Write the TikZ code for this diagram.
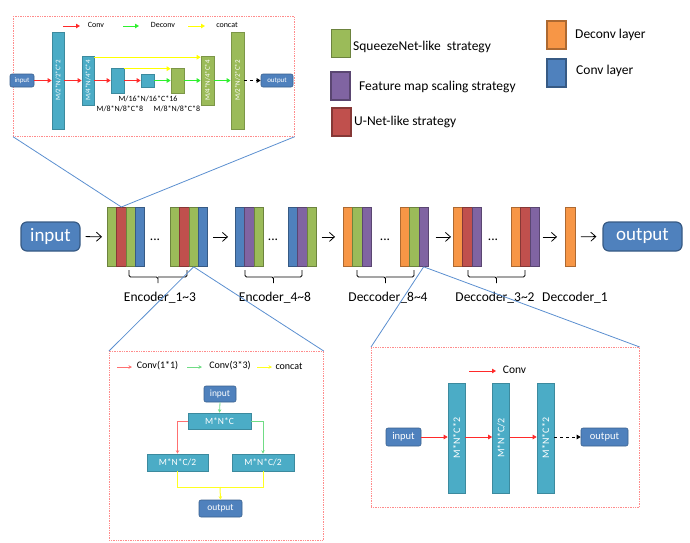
\documentclass[tikz,border=0pt]{standalone}
\usepackage{fontspec}
\setmainfont{Carlito}
\usetikzlibrary{arrows.meta,calc}
\definecolor{cgreen}{HTML}{9BBB59}
\definecolor{cred}{HTML}{C0504D}
\definecolor{cblue}{HTML}{4F81BD}
\definecolor{cpurple}{HTML}{8064A2}
\definecolor{corange}{HTML}{F79646}
\definecolor{cteal}{HTML}{4BACC6}
\definecolor{insetred}{HTML}{FF8C8C}
\definecolor{zoomblue}{HTML}{5B8FD0}
\definecolor{arred}{HTML}{FF2A2A}
\definecolor{argreen}{HTML}{2EF02E}
\definecolor{aryellow}{HTML}{FFFF00}
\definecolor{lred}{HTML}{FF7070}
\definecolor{lgreen}{HTML}{70DC85}
\definecolor{lyellow}{HTML}{FFFF20}
\newcommand\fs[1]{\fontsize{#1}{#1}\selectfont}
\newcommand\mkblock[3]{\foreach \c [count=\i] in {#3} {\node[strip=\c] (#1\i) at ({#2+(\i-1)*9.3},207) {};}}
\newcommand\bracket[2]{\draw[brk] (#1,270) |- ({(#1+#2)/2},277) -- ({(#1+#2)/2},283) ({(#1+#2)/2},277) -| (#2,270);}
\begin{document}
\begin{tikzpicture}[x=1pt,y=-1pt,
  strip/.style={draw=#1!70!black, fill=#1, line width=0.8pt, minimum width=9.3pt, minimum height=59pt, anchor=north west, inner sep=0pt},
  bigbox/.style={draw=cblue!70!black, fill=cblue, line width=1.2pt, rounded corners=6pt, text=white, inner sep=0pt, font=\fs{19}},
  smallbox/.style={draw=cblue!75!black, fill=cblue, line width=0.6pt, rounded corners=2pt, text=white, inner sep=0pt},
  tbar/.style={draw=cteal!80!black, fill=cteal, line width=0.6pt, inner sep=0pt, text=white},
  gbar/.style={draw=cgreen!80!black, fill=cgreen, line width=0.6pt, inner sep=0pt, text=white},
  legsq/.style={draw=#1!70!black, fill=#1, line width=1.3pt, minimum width=19pt, minimum height=28pt, inner sep=0pt},
  legtxt/.style={anchor=west, font=\fs{13.5}, inner sep=0pt},
  flow/.style={-{Straight Barb[length=5pt,width=9pt]}, line width=0.8pt},
  inset/.style={draw=insetred, densely dotted, line width=0.7pt, anchor=north west, inner sep=0pt},
  zoomline/.style={draw=zoomblue, line width=0.8pt},
  brk/.style={line width=0.8pt, rounded corners=1.5pt},
  lbl/.style={font=\fs{13.5}, inner sep=0pt},
  rar/.style={draw=arred, line width=1pt, -{Triangle[length=4pt,width=4.5pt]}},
  gar/.style={draw=argreen, line width=1pt, -{Triangle[length=4pt,width=4.5pt]}},
  yar/.style={draw=aryellow, line width=1pt, -{Triangle[length=4pt,width=4.5pt]}},
  dar/.style={draw=black, dashed, line width=1pt, -{Triangle[length=4pt,width=4.5pt]}},
  lrar/.style={draw=lred, line width=0.8pt, -{Stealth[length=3.5pt,width=3.5pt]}},
  lgar/.style={draw=lgreen, line width=0.8pt, -{Stealth[length=3.5pt,width=3.5pt]}},
  lyar/.style={draw=lyellow, line width=1pt, -{Stealth[length=3.5pt,width=3.5pt]}},
  lyline/.style={draw=lyellow, line width=1pt}
]
\useasboundingbox (0,0) rectangle (690,542);

% ---------------- legend ----------------
\node[legsq=cgreen] (lg1) at (341,43.5) {};
\node[legtxt] (lt1) at (353,47) {SqueezeNet-like\ \ strategy};
\node[legsq=cpurple] (lg2) at (340.5,86) {};
\node[legtxt] (lt2) at (359,87) {Feature map scaling strategy};
\node[legsq=cred] (lg3) at (341.5,122) {};
\node[legtxt] (lt3) at (354,122) {U-Net-like strategy};
\node[legsq=corange] (lg4) at (556.5,35) {};
\node[legtxt] (lt4) at (575,35) {Deconv layer};
\node[legsq=cblue] (lg5) at (556.5,73) {};
\node[legtxt] (lt5) at (576,71) {Conv layer};

% ---------------- main row ----------------
\node[bigbox, minimum width=59pt, minimum height=29pt] (in) at (50.5,236.5) {input};
\mkblock{e1a}{107}{cgreen,cred,cgreen,cblue}
\node[lbl] (dt1) at (155,240) {...};
\mkblock{e1b}{170}{cgreen,cred,cgreen,cblue}
\mkblock{e4a}{235}{cblue,cpurple,cgreen}
\node[lbl] (dt2) at (273,240) {...};
\mkblock{e4b}{288}{cblue,cpurple,cgreen}
\mkblock{d8a}{343}{corange,cgreen,cpurple}
\node[lbl] (dt3) at (385,240) {...};
\mkblock{d8b}{400}{corange,cgreen,cpurple}
\mkblock{d3a}{453}{corange,cred,cpurple}
\node[lbl] (dt4) at (493,240) {...};
\mkblock{d3b}{511}{corange,cred,cpurple}
\node[strip=corange, minimum width=10pt] (d1) at (565,207) {};
\node[bigbox, minimum width=79pt, minimum height=29pt] (out) at (642.5,236.5) {output};

\draw[flow, shorten <=5pt, shorten >=5pt] (in.east) -- (e1a1.west);
\draw[flow, shorten <=5pt, shorten >=7pt] (e1b4.east) -- (e4a1.west);
\draw[flow, shorten <=5pt, shorten >=8pt] (e4b3.east) -- (d8a1.west);
\draw[flow, shorten <=7pt, shorten >=2pt] (d8b3.east) -- (d3a1.west);
\draw[flow, shorten <=3pt, shorten >=8pt] (d3b3.east) -- (d1.west);
\draw[flow, shorten <=5pt, shorten >=6pt] (d1.east) -- (out.west);

\bracket{129}{187}
\bracket{245}{302}
\bracket{357}{414}
\bracket{468}{525}
\node[lbl] (enc1) at (160,298) {Encoder\_1\textasciitilde 3};
\node[lbl] (enc4) at (275,298) {Encoder\_4\textasciitilde 8};
\node[lbl] (dec8) at (388,298) {Deccoder\_8\textasciitilde 4};
\node[lbl] (dec3) at (495,298) {Deccoder\_3\textasciitilde 2};
\node[lbl] (dec1) at (575,298) {Deccoder\_1};

% ---------------- top-left inset ----------------
\node[inset, minimum width=281pt, minimum height=120pt] (tl) at (13,16) {};
\coordinate (tla1) at (63,26); \coordinate (tla2) at (80,26);
\draw[rar] (tla1) -- (tla2);
\node[font=\fs{8}] (tlt1) at (96,25) {Conv};
\coordinate (tlb1) at (123,26); \coordinate (tlb2) at (139,26);
\draw[gar] (tlb1) -- (tlb2);
\node[font=\fs{8}] (tlt2) at (163,25) {Deconv};
\coordinate (tlc1) at (188,26); \coordinate (tlc2) at (205,26);
\draw[yar] (tlc1) -- (tlc2);
\node[font=\fs{8}] (tlt3) at (227,25) {concat};

\node[smallbox, minimum width=24pt, minimum height=13pt, font=\fs{7}] (tin) at (22,80.5) {input};
\node[tbar, rotate=90, minimum width=97pt, minimum height=12pt, font=\fs{7}] (b1) at (58,80.5) {M/2*N/2*C*2};
\node[tbar, rotate=90, minimum width=49pt, minimum height=12pt, font=\fs{7}] (b2) at (88,80.5) {M/4*N/4*C*4};
\node[tbar, minimum width=13pt, minimum height=25pt] (b3) at (117.5,80.5) {};
\node[tbar, minimum width=13pt, minimum height=13pt] (b4) at (147.5,80.5) {};
\node[gbar, minimum width=13pt, minimum height=25pt] (b5) at (177.5,80.5) {};
\node[gbar, rotate=90, minimum width=49pt, minimum height=13pt, font=\fs{7}] (b6) at (207.5,80.5) {M/4*N/4*C*4};
\node[gbar, rotate=90, minimum width=97pt, minimum height=13pt, font=\fs{7}] (b7) at (237.5,80.5) {M/2*N/2*C*2};
\node[smallbox, minimum width=32pt, minimum height=13pt, font=\fs{7}] (tout) at (277,80.5) {output};

\draw[rar] (tin.east) -- (b1.north);
\draw[rar] (b1.south) -- (b2.north);
\draw[rar] (b2.south) -- (b3.west);
\draw[rar] (b3.east) -- (b4.west);
\draw[gar] (b4.east) -- (b5.west);
\draw[gar] (b5.east) -- (b6.north);
\draw[gar] (b6.south) -- (b7.north);
\draw[dar] (b7.south) -- (tout.west);
\draw[yar] ([yshift=-1.5pt]b2.south east) -- ([yshift=-1.5pt]b2.south east -| b6.north);
\draw[yar] ([yshift=-1pt]b3.north east) -- ([yshift=-1pt]b3.north east -| b5.west);

\node[font=\fs{8}] (s16) at (148,99) {M/16*N/16*C*16};
\node[font=\fs{8}] (s8a) at (120,109) {M/8*N/8*C*8};
\node[font=\fs{8}] (s8b) at (177,109) {M/8*N/8*C*8};

% ---------------- bottom-left inset ----------------
\node[inset, minimum width=214pt, minimum height=189pt] (bl) at (109,351) {};
\coordinate (bla1) at (117,367); \coordinate (bla2) at (132,367);
\draw[lrar] (bla1) -- (bla2);
\node[font=\fs{10}] (blt1) at (157.5,366) {Conv(1*1)};
\coordinate (blb1) at (187,367); \coordinate (blb2) at (202,367);
\draw[lgar] (blb1) -- (blb2);
\node[font=\fs{10}] (blt2) at (230,366) {Conv(3*3)};
\coordinate (blc1) at (257,367); \coordinate (blc2) at (272,367);
\draw[lyar] (blc1) -- (blc2);
\node[font=\fs{10}] (blt3) at (289,366) {concat};

\node[smallbox, minimum width=32pt, minimum height=16pt, font=\fs{9.5}] (bin) at (220,394) {input};
\node[tbar, minimum width=63pt, minimum height=16pt, font=\fs{9.5}] (mnc) at (219.5,421) {M*N*C};
\node[tbar, minimum width=61pt, minimum height=17pt, font=\fs{9.5}] (ml) at (177.5,462.5) {M*N*C/2};
\node[tbar, minimum width=62pt, minimum height=17pt, font=\fs{9.5}] (mr) at (263,462.5) {M*N*C/2};
\node[smallbox, minimum width=43pt, minimum height=17pt, font=\fs{9.5}] (bout) at (220.5,508.5) {output};
\coordinate (jn) at (220,487);

\draw[lgar] (bin.south) -- (mnc.north);
\draw[lrar] (mnc.west) -| (ml.north);
\draw[lgar] (mnc.east) -| (mr.north);
\draw[lyline] (ml.south) |- (jn) -| (mr.south);
\draw[lyar] (jn) -- (bout.north);

% ---------------- bottom-right inset ----------------
\node[inset, minimum width=268pt, minimum height=160pt] (br) at (371,347) {};
\coordinate (bra1) at (469,371); \coordinate (bra2) at (496,371);
\draw[rar, line width=0.8pt] (bra1) -- (bra2);
\node[font=\fs{11.5}] (brt1) at (514.5,370) {Conv};

\node[smallbox, minimum width=35pt, minimum height=18pt, font=\fs{10.5}] (rin) at (403.5,437) {input};
\node[tbar, rotate=90, minimum width=110pt, minimum height=17pt, font=\fs{10}] (r1) at (456.5,438) {M*N*C*2};
\node[tbar, rotate=90, minimum width=110pt, minimum height=17pt, font=\fs{10}] (r2) at (501,438) {M*N*C/2};
\node[tbar, rotate=90, minimum width=110pt, minimum height=17pt, font=\fs{10}] (r3) at (545.5,438) {M*N*C*2};
\node[smallbox, minimum width=47pt, minimum height=18pt, font=\fs{10.5}] (rout) at (604.5,437) {output};

\draw[rar, line width=0.8pt] (rin.east) -- (rin.east -| r1.north);
\draw[rar, line width=0.8pt] (rin.east -| r1.south) -- (rin.east -| r2.north);
\draw[rar, line width=0.8pt] (rin.east -| r2.south) -- (rin.east -| r3.north);
\draw[dar] (rin.east -| r3.south) -- (rout.west);

% ---------------- zoom lines ----------------
\draw[zoomline] (tl.south west) -- (e1a2.north);
\draw[zoomline] (tl.south east) -- (e1a2.north);
\draw[zoomline] (bl.north west) -- (e1b3.south);
\draw[zoomline] (bl.north east) -- (e1b3.south);
\draw[zoomline] (br.north west) -- (d8b3.south);
\draw[zoomline] (br.north east) -- (d8b3.south);
\end{tikzpicture}
\end{document}
